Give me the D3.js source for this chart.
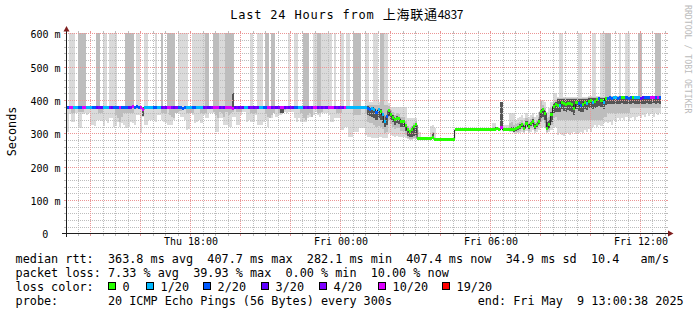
<!DOCTYPE html>
<html><head><meta charset="utf-8">
<script src="https://cdn.jsdelivr.net/npm/d3@7/dist/d3.min.js"></script>
<style>
html,body{margin:0;padding:0;background:#fff;overflow:hidden}
svg{display:block}
text{font-family:"DejaVu Sans Mono",monospace;fill:#000}
</style></head><body>
<svg id="chart" width="697" height="315"></svg>
<script>
// ---------- DATA (5-minute steps starting Thu May 8 13:00) ----------
const median = [
377,377,377,377,377,377,377,377,377,377,
377,377,377,377,377,377,377,377,377,377,
377,377,377,377,377,377,377,377,377,377,
377,377,380,377,380,377,377,372,377,377,
377,377,377,377,377,377,377,377,377,377,
377,377,377,377,377,377,375,377,377,377,
377,377,377,377,377,377,377,377,377,377,
377,377,377,377,377,377,377,377,377,377,
374,377,377,377,377,377,377,377,377,377,
377,377,377,377,377,377,377,377,377,377,
377,377,377,377,377,377,377,377,377,377,
377,377,377,377,377,377,377,377,377,377,
377,377,377,377,377,377,377,377,377,377,
377,377,377,377,377,377,377,377,377,377,
377,377,377,377,377,
375,372,373,372,362,370,366,355,335,350,
368,355,348,340,345,343,335,335,322,310,
305,310,320,325,
284,284,284,284,284,284,284,288,282,282,282,282,282,282,282,282,282,282,
310,310,310,310,310,310,310,310,310,310,310,310,310,310,310,310,310,310,
311,310,313,310,316,310,310,310,310,310,
311,313,316,320,325,315,330,320,328,335,320,325,335,365,370,360,315,325,355,380,385,
384,383,393,388,385,390,388,385,375,393,388,383,385,393,390,395,397,393,396,400,403,398,393,404,
405,406,405,406,406,405,406,407,406,406,405,406,407,406,406,406,405,406,406,407,406,406,407,407,407,407
];
const lossCount = [
2,2,5,5,1,1,2,2,5,5,
1,1,1,2,2,3,4,3,1,1,
1,4,3,2,2,2,5,2,2,2,
3,4,5,2,2,2,5,5,1,1,
1,1,2,2,1,1,3,4,3,5,
5,4,3,4,2,2,2,2,1,1,
1,2,2,1,1,1,3,4,3,3,
4,5,5,5,3,4,3,5,5,5,
8,3,4,3,4,3,1,1,3,4,
3,4,3,1,1,2,2,5,5,3,
4,3,4,5,5,3,4,3,4,3,
2,2,1,1,3,4,3,4,3,5,
5,3,4,3,4,3,5,5,5,3,
4,3,4,3,5,1,1,1,1,1,
1,1,1,1,1,
2,2,1,1,2,1,0,1,1,2,
0,0,0,0,0,0,0,0,0,0,
0,0,0,0,0,0,0,0,0,0,
0,0,0,0,0,0,0,0,0,0,
0,0,0,0,0,0,0,0,0,0,
0,0,0,0,0,0,0,0,0,0,
0,0,0,0,
5,
0,0,0,0,0,0,0,0,0,0,
0,0,0,0,0,0,0,0,0,0,
0,0,0,0,0,0,
0,1,0,0,0,0,0,0,0,0,2,2,0,0,1,0,0,1,0,0,2,0,1,0,
2,2,2,1,1,2,2,0,0,2,2,2,0,1,1,1,3,3,2,2,2,5,5,2,5,2
];
// smoke: outer (lo1..hi1), middle (lo2..hi2), core (lo3..hi3), ms
const smokeLo1 = [
305,305,358,335,335,360,315,315,358,360,
355,362,325,325,322,340,340,338,322,340,
330,345,345,320,322,335,320,330,325,315,
318,335,330,325,355,355,302,350,325,325,
340,340,340,335,355,355,340,335,330,325,
325,325,340,360,358,350,350,340,310,312,
360,355,330,335,340,330,355,345,345,360,
360,360,305,305,345,345,325,325,320,320,
350,350,325,325,355,365,365,335,340,335,
335,355,325,325,325,335,340,320,345,345,
360,350,355,355,365,365,360,365,365,365,
345,335,345,335,335,335,345,350,355,355,
365,355,350,360,360,360,355,335,335,345,
345,345,310,310,320,320,290,290,305,305,
305,315,315,315,295,
290,288,287,287,286,290,288,286,285,286,300,295,292,290,292,290,288,288,285,282,281,281,282,283,
283,283,283,283,283,283,283,287,281,281,281,281,281,281,281,281,281,281,
309,309,309,309,309,309,309,309,309,309,309,309,309,309,309,309,309,309,
310,309,312,309,315,309,309,309,305,305,
300,300,300,302,305,300,308,302,305,310,300,305,310,315,320,315,300,305,310,320,320,
295,300,295,292,298,300,295,300,305,298,302,305,300,310,305,312,305,320,325,318,325,322,330,335,
330,335,325,340,335,345,340,345,340,350,338,345,350,340,348,352,345,355,350,360,352,358,350,362,355,360
];
const smokeLo2 = [
374,374,374,360,360,374,363,363,363,374,
374,374,374,374,374,374,362,362,374,374,
374,374,374,374,355,345,335,350,360,360,
360,360,360,374,374,374,374,374,374,374,
374,374,374,374,374,374,360,360,360,374,
355,350,345,360,367,367,374,374,360,360,
360,360,374,374,374,360,360,360,374,374,
374,365,355,345,365,360,350,365,355,360,
365,374,365,365,365,374,374,374,374,360,
360,360,374,374,374,374,360,350,345,355,
360,374,360,360,370,370,374,374,374,374,
374,374,374,360,345,340,355,360,350,374,
374,360,360,365,374,374,374,374,374,374,
360,360,360,374,374,374,374,374,355,355,
355,355,374,374,360,
335,332,330,325,320,322,318,312,300,305,340,327,320,312,317,315,307,307,294,285,283,284,285,288,
283,283,283,283,283,283,283,287,281,281,281,281,281,281,281,281,281,281,
309,309,309,309,309,309,309,309,309,309,309,309,309,309,309,309,309,309,
310,309,312,309,315,309,309,309,307,307,
303,303,304,308,313,303,318,308,316,323,308,313,323,335,340,330,303,310,325,345,350,
340,340,340,340,340,340,340,340,340,340,340,340,340,340,340,340,340,340,340,340,340,340,350,350,
362,362,362,362,362,362,362,362,362,362,362,375,375,375,375,375,375,375,375,375,375,375,375,375,375,375
];
const smokeLo3 = [
376,376,376,376,376,376,376,376,376,376,
376,376,376,376,376,376,376,376,376,376,
376,376,376,376,376,376,376,376,376,376,
376,376,376,376,376,376,376,352,376,376,
376,376,376,376,376,376,376,376,376,376,
376,376,376,376,376,376,376,376,376,376,
376,376,376,376,376,376,376,376,376,376,
376,376,376,376,376,376,376,376,376,376,
376,376,376,376,376,376,376,376,376,376,
376,376,376,376,376,376,376,376,376,376,
376,376,376,362,362,376,376,376,376,376,
376,376,376,376,376,376,376,376,376,376,
376,376,376,376,376,376,376,376,376,376,
376,376,376,376,376,376,376,376,376,376,
376,376,376,376,376,
355,352,350,345,340,345,340,332,318,325,353,340,333,325,330,328,320,320,307,292,288,290,292,295,
283,283,283,283,283,283,283,287,281,281,281,281,281,281,281,281,281,281,
309,309,309,309,309,309,309,309,309,309,309,309,309,309,309,309,309,309,
310,309,312,309,315,309,309,309,309,309,
305,307,310,314,319,309,324,314,322,329,314,319,329,345,350,340,309,315,335,360,365,
364,363,373,368,365,370,368,365,355,373,368,363,365,373,370,375,377,373,376,380,383,378,373,384,
388,389,387,388,389,388,389,390,388,389,387,389,390,388,389,388,387,389,388,390,389,388,390,389,390,389
];
const smokeHi3 = [
378,378,378,378,378,378,378,378,378,378,
378,378,378,378,378,378,378,378,378,378,
378,378,378,378,378,378,378,378,378,378,
378,378,378,378,378,378,378,378,378,378,
378,378,378,378,378,378,378,378,378,378,
378,378,378,378,378,378,378,378,378,378,
378,378,378,378,378,378,378,378,378,378,
378,378,378,378,378,378,378,378,378,378,
420,378,378,378,378,378,378,378,378,378,
378,378,378,378,378,378,378,378,378,378,
378,378,378,378,378,378,378,378,378,378,
378,378,378,378,378,378,378,378,378,378,
378,378,378,378,378,378,378,378,378,378,
378,378,378,378,378,378,378,378,378,378,
378,378,378,378,378,
381,378,379,378,368,376,372,361,341,356,374,361,354,346,351,349,341,341,328,316,311,316,326,331,
285,285,285,285,285,285,285,300,283,283,283,283,283,283,283,283,283,283,
311,311,311,311,311,311,311,311,311,311,311,311,311,311,311,311,311,311,
316,318,314,311,393,311,311,311,311,320,
318,320,323,327,332,322,337,327,335,342,327,332,342,372,377,367,335,340,365,390,395,
403,403,403,403,403,403,403,403,403,403,403,403,403,403,403,406,406,406,406,406,406,406,406,406,
409,409,409,409,409,409,409,409,409,409,409,409,409,409,409,409,409,409,409,409,409,409,409,409,409,409
];
const smokeHi2 = [
378,378,378,378,378,378,650,650,650,650,
378,378,378,378,378,650,650,378,378,378,
378,378,378,378,378,378,378,378,378,650,
650,650,650,378,378,378,378,378,378,378,
378,378,378,378,378,378,650,378,378,650,
650,650,650,378,378,378,378,378,378,378,
378,378,378,378,378,378,378,650,650,378,
378,650,650,650,378,378,378,650,650,650,
650,378,378,378,378,378,378,378,378,378,
378,378,378,378,378,378,650,650,378,650,
650,378,378,378,378,378,378,378,378,378,
378,378,378,378,650,650,650,378,378,378,
378,650,650,378,378,378,378,378,378,378,
378,378,378,378,378,378,378,378,650,650,
650,650,378,378,378,
385,385,385,385,385,385,650,650,385,385,383,370,363,355,360,358,350,350,337,322,317,322,332,337,
285,285,285,285,285,285,285,305,283,283,283,283,283,283,283,283,283,283,
311,311,311,311,311,311,311,311,311,311,311,311,311,311,311,311,311,311,
318,320,314,311,393,311,311,311,330,335,
326,328,331,335,340,330,345,335,343,350,335,340,350,398,385,375,345,350,375,395,400,
406,406,406,406,406,406,406,406,406,406,406,406,406,406,406,409,409,409,409,409,409,409,409,650,
650,650,411,411,411,411,411,411,411,411,411,411,411,411,411,650,650,411,411,411,411,411,411,650,650,650
];
const smokeHi1 = [
378,378,650,650,650,378,650,650,650,650,
378,378,378,378,378,650,650,378,650,650,
378,650,650,650,650,378,378,378,378,650,
650,650,650,378,650,650,378,378,650,650,
378,378,378,650,378,378,650,378,378,650,
650,650,650,378,650,650,650,650,650,378,
378,650,650,650,650,650,650,650,650,378,
378,650,650,650,650,650,650,650,650,650,
650,378,378,378,378,378,378,378,378,650,
378,378,650,650,650,378,650,650,378,650,
650,378,378,378,378,378,378,650,378,378,
650,650,378,378,650,650,650,378,378,650,
650,650,650,650,650,650,650,650,378,650,
378,378,650,650,378,650,650,378,650,650,
650,650,378,378,650,
650,395,395,650,650,395,650,650,650,650,390,380,380,380,380,380,380,380,380,345,345,345,345,345,
310,305,285,285,285,285,322,325,315,283,283,283,283,283,283,283,283,283,
311,311,311,311,311,311,311,311,311,311,311,311,311,311,311,311,311,311,
330,330,316,311,393,325,325,325,360,360,
360,340,345,350,355,345,360,350,355,360,350,355,365,400,400,395,365,375,395,420,420,
408,650,650,408,408,408,408,408,408,408,650,650,408,408,408,411,411,650,650,411,411,650,650,650,
650,650,412,412,412,412,650,412,412,650,650,412,412,412,412,650,650,412,412,412,412,412,412,650,650,650
];
const lossLevels = [0, 1, 2, 3, 4, 10, 19];
const lossLabels = ["0", "1/20", "2/20", "3/20", "4/20", "10/20", "19/20"];
const lossColors = ["#26ff00", "#00b8ff", "#0059ff", "#5e00ff", "#7e00ff", "#dd00ff", "#ff0000"];
const yTickValues = [0, 100, 200, 300, 400, 500, 600];
const yTickLabels = ["0", "100 m", "200 m", "300 m", "400 m", "500 m", "600 m"];
const titleParts = ["Last 24 Hours from ", "上海联通", "4837"];
const legendRtt = "median rtt:  363.8 ms avg  407.7 ms max  282.1 ms min  407.4 ms now  34.9 ms sd  10.4   am/s";
const legendLoss = "packet loss: 7.33 % avg  39.93 % max  0.00 % min  10.00 % now";
const legendColorHead = "loss color:";
const legendProbe = "probe:       20 ICMP Echo Pings (56 Bytes) every 300s";
const legendEnd = "end: Fri May  9 13:00:38 2025";

// ---------- DRAW ----------
const svg = d3.select("#chart");
svg.append("rect").attr("width", 697).attr("height", 315).attr("fill", "#fff");

const tStart = new Date(2025, 4, 8, 13, 0, 0);
const tEnd = new Date(2025, 4, 9, 13, 0, 0);
const x = d3.scaleTime().domain([tStart, tEnd]).range([65, 665]);
const y = d3.scaleLinear().domain([0, 600]).range([233.33, 33.33]);
const STEP = 300000;
const N = median.length;
const tS = i => new Date(+tStart + i * STEP);

const PL = 66, PR = 666, PT = 33, PB = 233.4;
svg.append("defs").append("clipPath").attr("id", "plot")
  .append("rect").attr("x", PL).attr("y", PT).attr("width", PR - PL).attr("height", PB - PT);

const gData = svg.append("g").attr("clip-path", "url(#plot)");
const area = d3.area().curve(d3.curveStepAfter)
  .x(d => x(d.t)).y0(d => y(d.lo)).y1(d => y(d.hi));
[[smokeLo1, smokeHi1, "#dadada"], [smokeLo2, smokeHi2, "#bdbdbd"], [smokeLo3, smokeHi3, "#555555"]]
  .forEach(([lo, hi, col]) => {
    const p = lo.map((v, i) => ({t: tS(i), lo: v, hi: hi[i]}));
    p.push({t: tS(N), lo: lo[N - 1], hi: hi[N - 1]});
    gData.append("path").attr("d", area(p)).attr("fill", col).attr("shape-rendering", "crispEdges");
  });

// grid
const gGrid = svg.append("g");
const gridMinor = "#bdbdbd", gridMajor = "#eb9595";
function hLine(v, col) {
  const yy = Math.round(y(v)) + 0.5;
  gGrid.append("line").attr("x1", PL).attr("x2", PR).attr("y1", yy).attr("y2", yy)
    .attr("stroke", col).attr("stroke-dasharray", "1,1");
  gGrid.append("line").attr("x1", PL - 2).attr("x2", PL).attr("y1", yy).attr("y2", yy).attr("stroke", col);
  gGrid.append("line").attr("x1", PR).attr("x2", PR + 2).attr("y1", yy).attr("y2", yy).attr("stroke", col);
}
function vLine(t, col) {
  const xx = Math.round(x(t)) + 0.5;
  gGrid.append("line").attr("x1", xx).attr("x2", xx).attr("y1", PT).attr("y2", 233)
    .attr("stroke", col).attr("stroke-dasharray", "1,1");
  gGrid.append("line").attr("x1", xx).attr("x2", xx).attr("y1", PT - 2).attr("y2", PT).attr("stroke", col);
  gGrid.append("line").attr("x1", xx).attr("x2", xx).attr("y1", 234).attr("y2", 236).attr("stroke", col);
}
d3.range(20, 601, 20).filter(v => v % 100 !== 0).forEach(v => hLine(v, gridMinor));
const vt = d3.timeMinute.every(30).range(new Date(2025, 4, 8, 13, 30), new Date(2025, 4, 9, 13, 0, 1));
vt.filter(t => !(t.getMinutes() === 0 && t.getHours() % 2 === 0)).forEach(t => vLine(t, gridMinor));
d3.range(100, 601, 100).forEach(v => hLine(v, gridMajor));
vt.filter(t => t.getMinutes() === 0 && t.getHours() % 2 === 0).forEach(t => vLine(t, gridMajor));

// median line + loss-colored blocks
const gMed = svg.append("g").attr("clip-path", "url(#plot)");
const mp = median.map((v, i) => [x(tS(i)), y(v)]);
mp.push([x(tS(N)), y(median[N - 1])]);
gMed.append("path").attr("d", d3.line().curve(d3.curveStepAfter)(mp))
  .attr("fill", "none").attr("stroke", "#202020").attr("stroke-width", 1);
function lossColor(l) {
  for (let k = 0; k < lossLevels.length; k++) if (l <= lossLevels[k]) return lossColors[k];
  return lossColors[lossColors.length - 1];
}
median.forEach((v, i) => {
  const x0 = x(tS(i)), x1 = x(tS(i + 1));
  gMed.append("rect").attr("x", x0).attr("width", x1 - x0)
    .attr("y", y(v) - 1.5).attr("height", 3)
    .attr("fill", lossColor(lossCount[i])).attr("shape-rendering", "crispEdges");
});

// axes
svg.append("line").attr("x1", 66.5).attr("x2", 66.5).attr("y1", 237).attr("y2", 30).attr("stroke", "#1f1f1f");
svg.append("line").attr("x1", 62).attr("x2", 668).attr("y1", 233.5).attr("y2", 233.5).attr("stroke", "#1f1f1f");
svg.append("path").attr("d", "M63.5,31.5L69.5,31.5L66.5,26Z").attr("fill", "#7f1f1f");
svg.append("path").attr("d", "M668,230.5L668,236.5L673.5,233.5Z").attr("fill", "#7f1f1f");

// y tick labels
yTickValues.forEach((v, k) => {
  const yy = Math.round(y(v)) + 0.5;
  svg.append("text").attr("x", v === 0 ? 48.4 : 60.6).attr("y", yy + 4.3)
    .attr("text-anchor", "end").attr("font-size", "10px").text(yTickLabels[k]);
});
// x tick labels
const fmt = d3.timeFormat("%a %H:%M");
vt.filter(t => t.getMinutes() === 0 && t.getHours() % 6 === 0).forEach(t => {
  svg.append("text").attr("x", Math.round(x(t)) + 1).attr("y", 244.5)
    .attr("text-anchor", "middle").attr("font-size", "10px").text(fmt(t));
});

// title
const tt = svg.append("text").attr("x", 230.2).attr("y", 18.5);
tt.append("tspan").attr("font-size", "12px").attr("letter-spacing", "0.8").style("white-space", "pre").text(titleParts[0]);
tt.append("tspan").attr("font-family", "'Noto Sans CJK SC'").attr("font-size", "13px").attr("letter-spacing", "0.75").text(titleParts[1]);
tt.append("tspan").attr("font-family", "'Noto Sans CJK SC'").attr("font-size", "12px").attr("letter-spacing", "-0.3").text(titleParts[2]);

// y axis label
svg.append("text").attr("transform", "translate(15.5,131.5) rotate(-90)")
  .attr("text-anchor", "middle").attr("font-size", "11.8px").text("Seconds");
// watermark
svg.append("text").attr("transform", "translate(685,5) rotate(90)")
  .attr("font-size", "8.2px").style("fill", "#bbbbbb").text("RRDTOOL / TOBI OETIKER");

// legend
const LF = "11.8px";
function leg(str, xx, yy) {
  svg.append("text").attr("x", xx).attr("y", yy).attr("font-size", LF)
    .attr("xml:space", "preserve").style("white-space", "pre").text(str);
}
leg(legendRtt, 15.6, 263.3);
leg(legendLoss, 15.6, 277.2);
leg(legendColorHead, 15.6, 291);
leg(legendProbe, 15.6, 304.9);
leg(legendEnd, 477.7, 304.9);
const boxX = [108.5, 146.5, 203.5, 261.5, 319.5, 378.5, 442.5];
lossLabels.forEach((lab, k) => {
  svg.append("rect").attr("x", boxX[k]).attr("y", 282.5).attr("width", 7).attr("height", 7)
    .attr("fill", lossColors[k]).attr("stroke", "#000").attr("stroke-width", 1);
  leg(lab, boxX[k] + 14.1, 291);
});
</script>
</body></html>
